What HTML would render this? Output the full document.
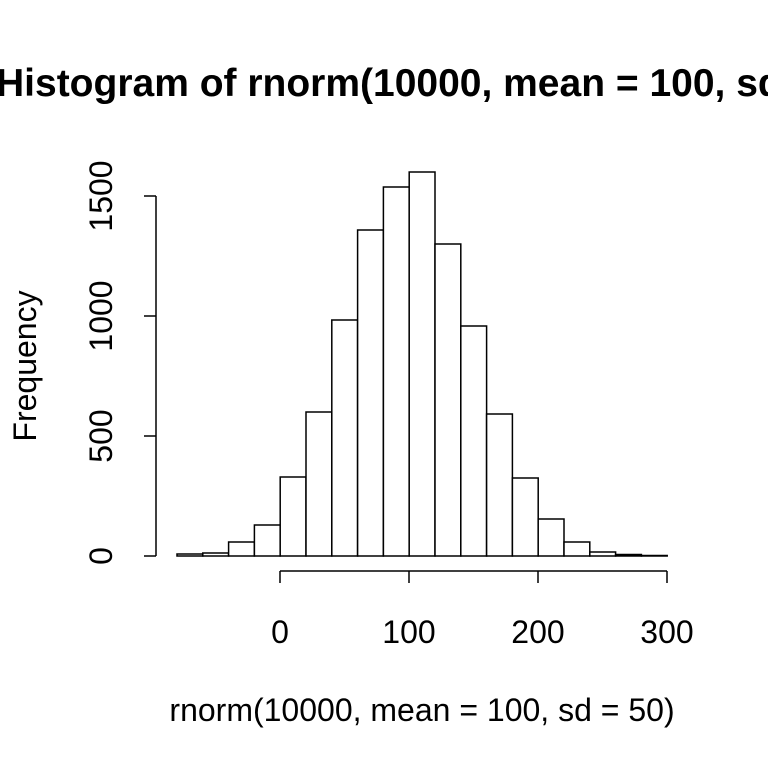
<!DOCTYPE html>
<html><head><style>body{margin:0;background:#fff}</style></head><body>
<svg width="768" height="768" xmlns="http://www.w3.org/2000/svg" font-family="Liberation Sans, Arial, sans-serif">
<rect width="768" height="768" fill="#fff"/>
<text x="-4" y="96" font-size="39" font-weight="bold">Histogram of rnorm(10000, mean = 100, sd = 50)</text>
<text x="422" y="721" font-size="32" text-anchor="middle">rnorm(10000, mean = 100, sd = 50)</text>
<text transform="translate(36,366) rotate(-90)" font-size="32" text-anchor="middle">Frequency</text>
<g fill="none" stroke="#000" stroke-width="1.5">
<line x1="156" y1="196" x2="156" y2="556"/>
<line x1="144" y1="556" x2="156" y2="556"/><line x1="144" y1="436" x2="156" y2="436"/>
<line x1="144" y1="316" x2="156" y2="316"/><line x1="144" y1="196" x2="156" y2="196"/>
<line x1="280" y1="571" x2="667" y2="571"/>
<line x1="280" y1="571" x2="280" y2="583"/><line x1="409" y1="571" x2="409" y2="583"/>
<line x1="538" y1="571" x2="538" y2="583"/><line x1="667" y1="571" x2="667" y2="583"/>
</g>
<g font-size="32" text-anchor="middle">
<text transform="translate(112,556) rotate(-90)">0</text>
<text transform="translate(112,436) rotate(-90)">500</text>
<text transform="translate(112,316) rotate(-90)">1000</text>
<text transform="translate(112,196) rotate(-90)">1500</text>
<text x="280" y="643">0</text><text x="409" y="643">100</text>
<text x="538" y="643">200</text><text x="667" y="643">300</text>
</g>
<g fill="#fff" stroke="#000" stroke-width="1.5">
<rect x="177" y="554" width="25.8" height="2"/>
<rect x="202.8" y="553" width="25.8" height="3"/>
<rect x="228.6" y="542" width="25.8" height="14"/>
<rect x="254.4" y="525" width="25.8" height="31"/>
<rect x="280.2" y="477" width="25.8" height="79"/>
<rect x="306" y="412" width="25.8" height="144"/>
<rect x="331.8" y="320" width="25.8" height="236"/>
<rect x="357.6" y="230" width="25.8" height="326"/>
<rect x="383.4" y="187" width="25.8" height="369"/>
<rect x="409.2" y="172" width="25.8" height="384"/>
<rect x="435" y="244" width="25.8" height="312"/>
<rect x="460.8" y="326" width="25.8" height="230"/>
<rect x="486.6" y="414" width="25.8" height="142"/>
<rect x="512.4" y="478" width="25.8" height="78"/>
<rect x="538.2" y="519" width="25.8" height="37"/>
<rect x="564" y="542" width="25.8" height="14"/>
<rect x="589.8" y="552" width="25.8" height="4"/>
<rect x="615.6" y="554.5" width="25.8" height="1.5"/>
<rect x="641.4" y="555.5" width="25.8" height="0.5"/>
</g>
</svg>
</body></html>
